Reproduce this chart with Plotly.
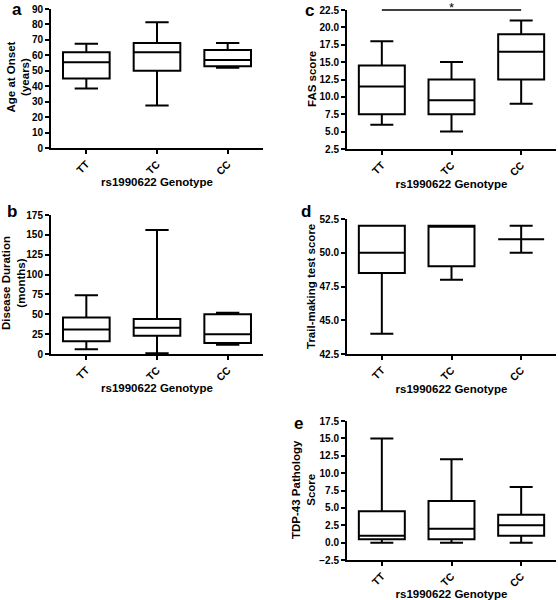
import plotly.graph_objects as go

genotypes = ["TT", "TC", "CC"]

# Panel a: Age at onset (years)
a_low = [38.5, 27.5, 52]
a_q1 = [45, 50, 53]
a_med = [55.5, 62, 57]
a_q3 = [62, 68, 63.5]
a_high = [67.5, 81.5, 68]

# Panel b: Disease duration (months)
b_low = [6, 1, 11.5]
b_q1 = [16, 23, 14]
b_med = [31, 33, 25]
b_q3 = [46, 44, 50]
b_high = [74, 156, 52]

# Panel c: FAS score
c_low = [6, 5, 9]
c_q1 = [7.5, 7.5, 12.5]
c_med = [11.5, 9.5, 16.5]
c_q3 = [14.5, 12.5, 19]
c_high = [18, 15, 21]

# Panel d: Trail-making test score
d_low = [44, 48, 50]
d_q1 = [48.5, 49, 51]
d_med = [50, 52, 51]
d_q3 = [52, 52, 51]
d_high = [52, 52, 52]

# Panel e: TDP-43 pathology score
e_low = [0, 0, 0]
e_q1 = [0.5, 0.5, 1]
e_med = [1, 2, 2.5]
e_q3 = [4.5, 6, 4]
e_high = [15, 12, 8]

x_title = "rs1990622 Genotype"

FONT = "Liberation Sans, Arial, sans-serif"
W, H = 558, 600

panels = [
    # suffix, data, y title, y range, dtick, tickformat, x domain px, y domain px (top,bottom), title pos, title size
    ("", (a_low, a_q1, a_med, a_q3, a_high), "Age at Onset<br>(years)", [0, 90], 10, "d",
     (51, 263), (9, 148), (18.5, 77), 11.5),
    ("2", (c_low, c_q1, c_med, c_q3, c_high), "FAS score", [2.5, 22.5], 2.5, ".1f",
     (347, 556), (10, 149), (312, 79), 11.5),
    ("3", (b_low, b_q1, b_med, b_q3, b_high), "Disease Duration<br>(months)", [0, 175], 25, "d",
     (51, 263), (215, 354), (13, 283), 11.5),
    ("4", (d_low, d_q1, d_med, d_q3, d_high), "Trail-making test score", [42.5, 52.5], 2.5, ".1f",
     (347, 556), (219, 354), (311, 287), 11.5),
    ("5", (e_low, e_q1, e_med, e_q3, e_high), "TDP-43 Pathology<br>Score", [-2.5, 17.5], 2.5, ".1f",
     (347, 556), (421, 560), (303, 490), 11.5),
]

fig = go.Figure()
layout = {}
for suf, (lo, q1, md, q3, hi), ytitle, yr, dt, tf, xd, yd, tpos, tsize in panels:
    fig.add_trace(go.Box(
        x=genotypes, q1=q1, median=md, q3=q3, lowerfence=lo, upperfence=hi,
        xaxis="x" + suf, yaxis="y" + suf,
        fillcolor="white", line=dict(color="black", width=2),
        width=0.66, whiskerwidth=0.5, boxpoints=False, showlegend=False,
        hoverinfo="skip",
    ))
    layout["xaxis" + suf] = dict(
        domain=[xd[0] / W, xd[1] / W], anchor="y" + suf, type="category", range=[-0.5, 2.5],
        showline=True, linecolor="black", linewidth=2, ticks="outside", ticklen=4,
        tickwidth=2, tickcolor="black", tickangle=-45, showgrid=False, zeroline=False,
        tickfont=dict(family=FONT, size=10.5, color="black", weight="bold"),
        title=dict(text=x_title, standoff=1,
                   font=dict(family=FONT, size=11.5, color="black", weight="bold")),
        automargin=False,
    )
    layout["yaxis" + suf] = dict(
        domain=[1 - yd[1] / H, 1 - yd[0] / H], anchor="x" + suf, range=yr, dtick=dt,
        tick0=yr[0], tickformat=tf,
        showline=True, linecolor="black", linewidth=2, ticks="outside", ticklen=4,
        tickwidth=2, tickcolor="black", showgrid=False, zeroline=False,
        tickfont=dict(family=FONT, size=10, color="black", weight="bold"),
        automargin=False,
    )
    # y-axis title
    fig.add_annotation(xref="paper", yref="paper", x=tpos[0] / W, y=1 - tpos[1] / H,
                       text=ytitle, textangle=-90, showarrow=False,
                       xanchor="center", yanchor="middle",
                       font=dict(family=FONT, size=tsize, color="black", weight="bold"))

fig.update_layout(**layout)

# significance bar for panel c (TT vs CC)
fig.add_shape(type="line", xref="x2", yref="y2 domain", x0="TT", x1="CC", y0=1, y1=1,
              line=dict(color="black", width=1.5))
fig.add_annotation(xref="x2", yref="y2 domain", x="TC", y=1, text="*", showarrow=False,
                   yanchor="middle", yshift=3, font=dict(family=FONT, size=13, color="black"))

# panel letters
for letter, px, py in [("a", 17, 9), ("c", 309, 11), ("b", 12, 212), ("d", 306, 212), ("e", 298, 423)]:
    fig.add_annotation(xref="paper", yref="paper", x=px / W, y=1 - py / H, text=letter,
                       showarrow=False, xanchor="center", yanchor="middle",
                       font=dict(family=FONT, size=17, color="black", weight="bold"))

fig.update_layout(
    width=W, height=H, margin=dict(l=0, r=0, t=0, b=0),
    plot_bgcolor="white", paper_bgcolor="white",
)

fig.write_html("out.html", config={"displayModeBar": False},
               post_script="document.body.style.margin='0';")
